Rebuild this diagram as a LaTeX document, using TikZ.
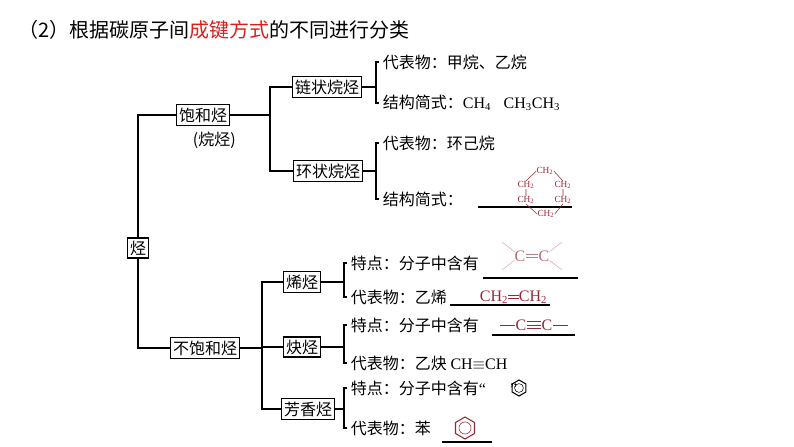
\documentclass[tikz,border=0pt]{standalone}
\usepackage{fontspec}
\setmainfont{Liberation Serif}
\newfontfamily\cjk{Noto Sans CJK SC}
\usetikzlibrary{positioning}
\definecolor{hired}{RGB}{220,30,30}
\definecolor{chemred}{RGB}{150,40,55}
\tikzset{
  cls/.style={draw,thick,inner sep=2pt,font=\cjk\fontsize{12}{14}\selectfont},
  txt/.style={anchor=west,inner sep=0pt,xshift=5pt,font=\cjk\fontsize{12}{14}\selectfont},
  chem/.style={inner sep=0pt,text=chemred,font=\fontsize{12}{14}\selectfont},
  small/.style={inner sep=0pt,text=chemred,font=\fontsize{7}{8}\selectfont},
  br/.style={thick}
}
\newcommand{\rmtxt}[1]{{\fontspec{Liberation Serif}#1}}
\newcommand{\benz}[3]{% centre, radius, colour
  \draw[#3,thick] (#1) ++(90:#2) -- ++(-30:#2) -- ++(-90:#2) -- ++(-150:#2)
    -- ++(150:#2) -- ++(90:#2) -- cycle;
  \draw[#3] (#1) circle[radius=0.55*#2];}
\begin{document}
\begin{tikzpicture}[x=0.75pt,y=-0.75pt]
\useasboundingbox (0,0) rectangle (794,447);

% title
\node[anchor=west,inner sep=0pt,font=\cjk\fontsize{15}{18}\selectfont] (title) at (18,30)
  {（2）根据碳原子间\textcolor{hired}{成键方式}的不同进行分类};

% classes
\node[cls] (ting) at (138,248) {烃};
\node[cls] (bh) at (203,115) {饱和烃};
\node[txt,xshift=0pt] (wt) at (186,140) {(烷烃)};
\node[cls] (bbh) at (205,348) {不饱和烃};
\node[cls] (ll) at (327,87) {链状烷烃};
\node[cls] (hl) at (328,171) {环状烷烃};
\node[cls] (xt) at (302,282) {烯烃};
\node[cls] (qt) at (302,347) {炔烃};
\node[cls] (fx) at (308,409) {芳香烃};

% brackets
\draw[br] (bh.west) -- (138,115) -- (ting.north);
\draw[br] (ting.south) -- (138,348) -- (bbh.west);
\draw[br] (bh.east) -- (270,115);
\draw[br] (ll.west) -| (270,171) -- (hl.west);
\draw[br] (bbh.east) -- (262,348);
\draw[br] (xt.west) -| (262,409) -- (fx.west);
\draw[br] (262,347) -- (qt.west);

% leaves
\node[txt] (ll1) at (376,62) {代表物：甲烷、乙烷};
\node[txt] (ll2) at (376,103) {结构简式：\rmtxt{CH\textsubscript{4}、CH\textsubscript{3}CH\textsubscript{3}}};
\node[txt] (hl1) at (376,143) {代表物：环己烷};
\node[txt] (hl2) at (376,199) {结构简式：};
\node[txt] (xt1) at (344,263) {特点：分子中含有};
\node[txt] (xt2) at (344,297) {代表物：乙烯};
\node[txt] (qt1) at (344,325) {特点：分子中含有};
\node[txt] (qt2) at (344,363) {代表物：乙炔 \rmtxt{CH$\equiv$CH}};
\node[txt] (fx1) at (344,388) {特点：分子中含有\rmtxt{“\hspace{1.5em}”}};
\node[txt] (fx2) at (344,428) {代表物：苯};

\draw[br] (ll.east) -- (376,87);
\draw[br] ([xshift=-3pt]ll1.west) -- (376,62) -- (376,103) -- ([xshift=-3pt]ll2.west);
\draw[br] (hl.east) -- (376,171);
\draw[br] ([xshift=-3pt]hl1.west) -- (376,143) -- (376,199) -- ([xshift=-3pt]hl2.west);
\draw[br] (xt.east) -- (344,282);
\draw[br] ([xshift=-3pt]xt1.west) -- (344,263) -- (344,297) -- ([xshift=-3pt]xt2.west);
\draw[br] (qt.east) -- (344,347);
\draw[br] ([xshift=-3pt]qt1.west) -- (344,325) -- (344,363) -- ([xshift=-3pt]qt2.west);
\draw[br] (fx.east) -- (344,409);
\draw[br] ([xshift=-3pt]fx1.west) -- (344,388) -- (344,428) -- ([xshift=-3pt]fx2.west);

% answer lines
\draw[thick] (478,207) -- (572,207);
\draw[thick] (483,278) -- (578,278);
\draw[thick] (450,305) -- (550,305);
\draw[thick] (492,335) -- (575,335);
\draw[thick] (442,442) -- (492,442);

% cyclohexane
\node[small] (c1) at (545,171) {CH\textsubscript{2}};
\node[small] (c2) at (526,185) {CH\textsubscript{2}};
\node[small] (c3) at (563,185) {CH\textsubscript{2}};
\node[small] (c4) at (526,200) {CH\textsubscript{2}};
\node[small] (c5) at (563,200) {CH\textsubscript{2}};
\node[small] (c6) at (546,214) {CH\textsubscript{2}};
\draw[chemred] (c1.west) -- (c2.north) (c1.east) -- (c3.north)
  (c2) -- (c4) (c3) -- (c5) (c4.south) -- (c6.west) (c5.south) -- (c6.east);

% C=C
\node[chem,text=chemred!70] (ca) at (520,256) {C};
\node[chem,text=chemred!70] (cb) at (544,256) {C};
\draw[chemred!60,double,double distance=2pt] (ca) -- (cb);
\draw[chemred!40] (ca) -- ++(-18,-14) (ca) -- ++(-18,14) (cb) -- ++(18,-14) (cb) -- ++(18,14);

% CH2=CH2
\node[chem] (e1) at (494,297) {CH\textsubscript{2}};
\node[chem] (e2) at (533,297) {CH\textsubscript{2}};
\draw[chemred,double,double distance=2pt] (e1) -- (e2);

% -C#C-
\node[chem] (y1) at (521,325) {C};
\node[chem] (y2) at (547,325) {C};
\draw[chemred] (y1) -- (y2) ([yshift=-2.5]y1.east) -- ([yshift=-2.5]y2.west)
  ([yshift=2.5]y1.east) -- ([yshift=2.5]y2.west);
\draw[chemred] (y1.west) -- ++(-15,0) (y2.east) -- ++(15,0);

% benzene
\benz{519,388}{8}{black}
\benz{465,428}{11}{chemred}
\end{tikzpicture}
\end{document}
